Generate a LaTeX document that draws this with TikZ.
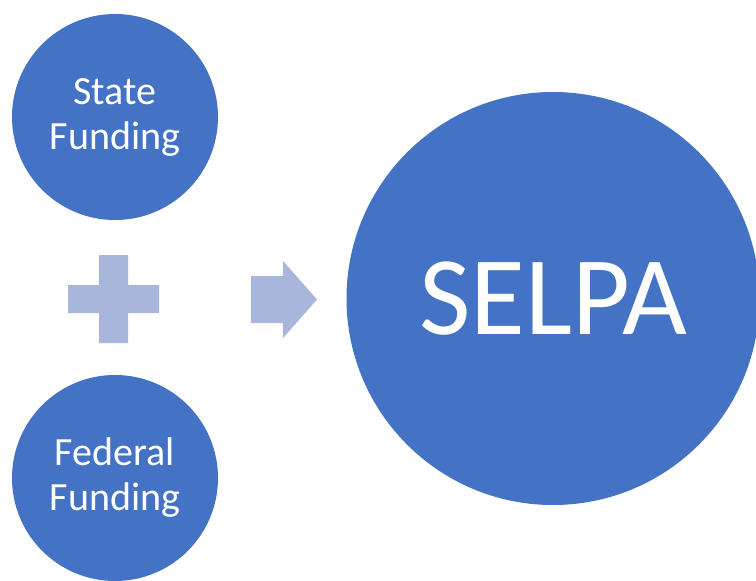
\documentclass[tikz,border=0pt]{standalone}
\usepackage{fontspec}
\setmainfont{Carlito}
\definecolor{circblue}{HTML}{4472C4}
\definecolor{symblue}{HTML}{A9B6DC}
\begin{document}
\begin{tikzpicture}[x=1pt,y=-1pt,
  bubble/.style={circle,fill=circblue,inner sep=0pt,text=white,align=center},
  small/.style={bubble,minimum size=206pt,font=\fontsize{40}{45}\selectfont},
  big/.style={bubble,minimum size=413pt,font=\fontsize{112}{120}\selectfont},
  sym/.style={fill=symblue}]
\useasboundingbox[fill=white] (0,0) rectangle (756,581);
\node[small] (state) at (115,117) {State\\Funding};
\node[small] (federal) at (115,478) {Federal\\Funding};
\node[big] (selpa) at (553,298.5) {SELPA};
% plus sign
\fill[sym] (99,255) -- (128,255) -- (128,285) -- (159,285) -- (159,313) -- (128,313)
  -- (128,343) -- (99,343) -- (99,313) -- (68,313) -- (68,285) -- (99,285) -- cycle;
% arrow
\fill[sym] (251,276) -- (283,276) -- (283,261) -- (317,299.5) -- (283,338) -- (283,323)
  -- (251,323) -- cycle;
\end{tikzpicture}
\end{document}
